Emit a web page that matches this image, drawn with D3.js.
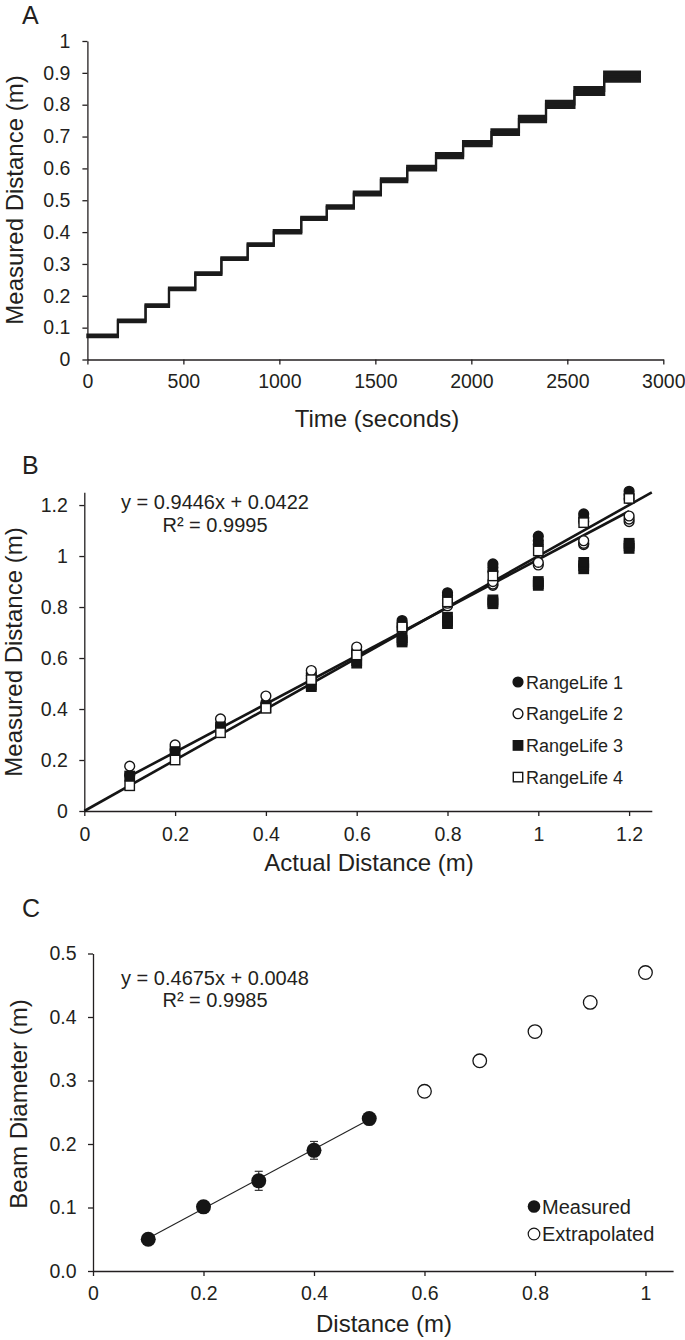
<!DOCTYPE html>
<html>
<head>
<meta charset="utf-8">
<script src="https://cdn.jsdelivr.net/npm/d3@7/dist/d3.min.js"></script>
<style>
  html, body { margin: 0; padding: 0; background: #fff; }
  svg { display: block; }
  text { font-family: "Liberation Sans", Arimo, Arial, sans-serif; fill: #231f20; }
  .panel-label { font-family: "Liberation Sans", Arimo, Arial, sans-serif; }
</style>
</head>
<body>
<svg id="chart" width="685" height="1340"></svg>
<script>
// ---------------- Panel A data ----------------
const stepStartTimes = [0, 159, 303, 425, 562, 698, 835, 971, 1114, 1247, 1388, 1529, 1666, 1816, 1957, 2105, 2248, 2389, 2537, 2692];
const stepEndTime = 2878;
const stepLevels = [0.074, 0.121, 0.169, 0.222, 0.270, 0.317, 0.361, 0.401, 0.443, 0.479, 0.521, 0.563, 0.601, 0.640, 0.678, 0.714, 0.755, 0.801, 0.843, 0.888];
const stepNoise = [0.004, 0.004, 0.004, 0.004, 0.004, 0.004, 0.004, 0.005, 0.005, 0.005, 0.006, 0.006, 0.007, 0.008, 0.008, 0.009, 0.010, 0.011, 0.012, 0.016];
const timeTicks = [0, 500, 1000, 1500, 2000, 2500, 3000];
const distTicksA = [0, 0.1, 0.2, 0.3, 0.4, 0.5, 0.6, 0.7, 0.8, 0.9, 1];

// ---------------- Panel B data ----------------
const actualDistances = [0.1, 0.2, 0.3, 0.4, 0.5, 0.6, 0.7, 0.8, 0.9, 1.0, 1.1, 1.2];
const rangeLife1 = [[0.140], [0.240], [0.333], [0.425], [0.530, 0.520], [0.625, 0.615], [0.747, 0.735, 0.725], [0.856, 0.845, 0.830], [0.969, 0.955, 0.940], [1.078, 1.060, 1.045], [1.165, 1.150, 1.135], [1.254, 1.240, 1.225]];
const rangeLife2 = [[0.176], [0.259], [0.361], [0.451], [0.551, 0.540], [0.643, 0.630], [0.720, 0.710], [0.815, 0.805], [0.900, 0.890, 0.885], [0.975, 0.965], [1.060, 1.050, 1.045], [1.157, 1.145, 1.135]];
const rangeLife3 = [[0.137], [0.233], [0.330], [0.405], [0.495, 0.488], [0.590, 0.580], [0.680, 0.670, 0.663], [0.760, 0.745, 0.735], [0.828, 0.820, 0.813], [0.900, 0.892, 0.885], [0.975, 0.962, 0.950], [1.050, 1.040, 1.030]];
const rangeLife4 = [[0.099], [0.200], [0.307], [0.403], [0.515], [0.612], [0.722], [0.820], [0.922], [1.020], [1.131], [1.226]];
const seriesNamesB = ["RangeLife 1", "RangeLife 2", "RangeLife 3", "RangeLife 4"];
const fitB = { slope: 0.9446, intercept: 0.0422, x0: 0.1, x1: 1.2 };
const identityB = { slope: 1.0, intercept: 0, x0: 0, x1: 1.25 };
const ticksB = [0, 0.2, 0.4, 0.6, 0.8, 1, 1.2];

// ---------------- Panel C data ----------------
const measuredDist = [0.1, 0.2, 0.3, 0.4, 0.5];
const measuredBeam = [0.050, 0.101, 0.142, 0.190, 0.240];
const measuredErr = [0.004, 0.004, 0.015, 0.014, 0.004];
const extrapDist = [0.6, 0.7, 0.8, 0.9, 1.0];
const extrapBeam = [0.283, 0.331, 0.377, 0.423, 0.470];
const fitC = { slope: 0.4675, intercept: 0.0048, x0: 0.1, x1: 0.5 };
const ticksCx = [0, 0.2, 0.4, 0.6, 0.8, 1];
const ticksCy = [0, 0.1, 0.2, 0.3, 0.4, 0.5];
const seriesNamesC = ["Measured", "Extrapolated"];

// ---------------- drawing ----------------
const svg = d3.select("#chart");
const INK = "#231f20";
const fmtPlain = d => String(+d.toFixed(2));

function styleAxis(g) {
  g.select(".domain").attr("stroke", INK).attr("stroke-width", 1.3);
  g.selectAll(".tick line").attr("stroke", INK).attr("stroke-width", 1.3);
  g.selectAll(".tick text").style("font-size", "19.5px").attr("fill", INK);
}

function panelLabel(txt, x, y) {
  svg.append("text").attr("class", "panel-label").attr("x", x).attr("y", y)
    .style("font-size", "25px").text(txt);
}

function axisTitles(xText, xPos, yPos, yText, yx, yy) {
  svg.append("text").attr("x", xPos).attr("y", yPos).attr("text-anchor", "middle")
    .style("font-size", "24px").text(xText);
  svg.append("text").attr("transform", `translate(${yx},${yy}) rotate(-90)`)
    .attr("text-anchor", "middle").style("font-size", "24px").text(yText);
}

// ===== Panel A =====
{
  const x = d3.scaleLinear().domain([0, 3000]).range([87.4, 663.3]);
  const y = d3.scaleLinear().domain([0, 1]).range([359.5, 41]);
  const g = svg.append("g");
  g.append("g").attr("transform", `translate(0,${y(0)})`)
    .call(d3.axisBottom(x).tickValues(timeTicks).tickSize(5).tickSizeOuter(0).tickPadding(10).tickFormat(d3.format("d")))
    .call(styleAxis);
  g.append("g").attr("transform", `translate(${x(0)},0)`)
    .call(d3.axisLeft(y).tickValues(distTicksA).tickSize(5).tickSizeOuter(0).tickPadding(12).tickFormat(fmtPlain))
    .call(styleAxis);

  const pts = stepStartTimes.map((t, i) => ({ t, v: stepLevels[i], n: stepNoise[i] }));
  pts.push({ t: stepEndTime, v: stepLevels[stepLevels.length - 1], n: stepNoise[stepNoise.length - 1] });
  const band = d3.area().x(d => x(d.t)).y0(d => y(d.v - d.n)).y1(d => y(d.v + d.n)).curve(d3.curveStepAfter);
  g.append("path").datum(pts).attr("d", band).attr("fill", "#1b1b1b").attr("stroke", "#1b1b1b").attr("stroke-width", 2.2);
  const line = d3.line().x(d => x(d.t)).y(d => y(d.v)).curve(d3.curveStepAfter);
  g.append("path").datum(pts).attr("d", line).attr("fill", "none").attr("stroke", "#1b1b1b").attr("stroke-width", 2.2);

  panelLabel("A", 22, 23.5);
  axisTitles("Time (seconds)", 377, 427, "Measured Distance (m)", 22.5, 200);
}

// ===== Panel B =====
{
  const x = d3.scaleLinear().domain([0, 1.25]).range([84.3, 651.8]);
  const y = d3.scaleLinear().domain([0, 1.25]).range([811, 492.3]);
  const g = svg.append("g");
  g.append("g").attr("transform", `translate(0,${y(0)})`)
    .call(d3.axisBottom(x).tickValues(ticksB).tickSize(5).tickSizeOuter(0).tickPadding(11).tickFormat(fmtPlain))
    .call(styleAxis);
  g.append("g").attr("transform", `translate(${x(0)},0)`)
    .call(d3.axisLeft(y).tickValues(ticksB).tickSize(5).tickSizeOuter(0).tickPadding(11.5).tickFormat(fmtPlain))
    .call(styleAxis);

  // trend lines
  [identityB, fitB].forEach(f => {
    g.append("line")
      .attr("x1", x(f.x0)).attr("y1", y(f.slope * f.x0 + f.intercept))
      .attr("x2", x(f.x1)).attr("y2", y(f.slope * f.x1 + f.intercept))
      .attr("stroke", "#151515").attr("stroke-width", 2.6);
  });

  const seriesB = [rangeLife1, rangeLife2, rangeLife3, rangeLife4];
  const markerB = [
    { shape: "circle", fill: "#151515" },
    { shape: "circle", fill: "#fff" },
    { shape: "square", fill: "#151515" },
    { shape: "square", fill: "#fff" }
  ];
  function drawMarker(sel, m, cx, cy) {
    if (m.shape === "circle") {
      sel.append("circle").attr("cx", cx).attr("cy", cy).attr("r", 4.9)
        .attr("fill", m.fill).attr("stroke", "#151515").attr("stroke-width", 1.4);
    } else {
      sel.append("rect").attr("x", cx - 4.7).attr("y", cy - 4.7).attr("width", 9.4).attr("height", 9.4)
        .attr("fill", m.fill).attr("stroke", "#151515").attr("stroke-width", 1.4);
    }
  }
  seriesB.forEach((s, si) => {
    const sg = g.append("g");
    s.forEach((reps, i) => {
      reps.slice().reverse().forEach(v => drawMarker(sg, markerB[si], x(actualDistances[i]), y(v)));
    });
  });

  // legend
  seriesNamesB.forEach((name, i) => {
    const ly = 682 + i * 31.7;
    drawMarker(g, markerB[i], 518, ly);
    g.append("text").attr("x", 526).attr("y", ly + 6.5).style("font-size", "18px").text(name);
  });

  // equation
  g.append("text").attr("x", 215).attr("y", 509).attr("text-anchor", "middle").style("font-size", "20px")
    .text(`y = ${fitB.slope}x + ${fitB.intercept}`);
  g.append("text").attr("x", 215).attr("y", 532).attr("text-anchor", "middle").style("font-size", "20px")
    .text("R² = 0.9995");

  panelLabel("B", 22, 473.5);
  axisTitles("Actual Distance (m)", 369, 871, "Measured Distance (m)", 22, 652);
}

// ===== Panel C =====
{
  const x = d3.scaleLinear().domain([0, 1.05]).range([93, 673.1]);
  const y = d3.scaleLinear().domain([0, 0.5]).range([1271, 953.5]);
  const g = svg.append("g");
  g.append("g").attr("transform", `translate(0,${y(0)})`)
    .call(d3.axisBottom(x).tickValues(ticksCx).tickSize(5).tickSizeOuter(0).tickPadding(10).tickFormat(fmtPlain))
    .call(styleAxis);
  g.append("g").attr("transform", `translate(${x(0)},0)`)
    .call(d3.axisLeft(y).tickValues(ticksCy).tickSize(5).tickSizeOuter(0).tickPadding(11.5).tickFormat(d3.format(".1f")))
    .call(styleAxis);

  // fit line
  g.append("line")
    .attr("x1", x(fitC.x0)).attr("y1", y(fitC.slope * fitC.x0 + fitC.intercept))
    .attr("x2", x(fitC.x1)).attr("y2", y(fitC.slope * fitC.x1 + fitC.intercept))
    .attr("stroke", "#222").attr("stroke-width", 1.1);

  // error bars
  measuredDist.forEach((d, i) => {
    const cx = x(d), top = y(measuredBeam[i] + measuredErr[i]), bot = y(measuredBeam[i] - measuredErr[i]);
    g.append("line").attr("x1", cx).attr("x2", cx).attr("y1", top).attr("y2", bot).attr("stroke", "#333").attr("stroke-width", 1.2);
    [top, bot].forEach(yy => g.append("line").attr("x1", cx - 4).attr("x2", cx + 4).attr("y1", yy).attr("y2", yy).attr("stroke", "#333").attr("stroke-width", 1.2));
  });

  g.selectAll(".meas").data(measuredDist).enter().append("circle")
    .attr("cx", d => x(d)).attr("cy", (d, i) => y(measuredBeam[i])).attr("r", 7.5)
    .attr("fill", "#151515");
  g.selectAll(".extr").data(extrapDist).enter().append("circle")
    .attr("cx", d => x(d)).attr("cy", (d, i) => y(extrapBeam[i])).attr("r", 6.8)
    .attr("fill", "#fff").attr("stroke", "#151515").attr("stroke-width", 1.3);

  // legend
  g.append("circle").attr("cx", 534).attr("cy", 1206.5).attr("r", 6.3).attr("fill", "#151515");
  g.append("text").attr("x", 542).attr("y", 1213.5).style("font-size", "20px").text(seriesNamesC[0]);
  g.append("circle").attr("cx", 534).attr("cy", 1234).attr("r", 5.8).attr("fill", "#fff").attr("stroke", "#151515").attr("stroke-width", 1.2);
  g.append("text").attr("x", 542).attr("y", 1241).style("font-size", "20px").text(seriesNamesC[1]);

  g.append("text").attr("x", 215).attr("y", 985).attr("text-anchor", "middle").style("font-size", "20px")
    .text(`y = ${fitC.slope}x + ${fitC.intercept}`);
  g.append("text").attr("x", 215).attr("y", 1007).attr("text-anchor", "middle").style("font-size", "20px")
    .text("R² = 0.9985");

  panelLabel("C", 22, 917);
  axisTitles("Distance (m)", 384, 1332, "Beam Diameter (m)", 27, 1104);
}
</script>
</body>
</html>
